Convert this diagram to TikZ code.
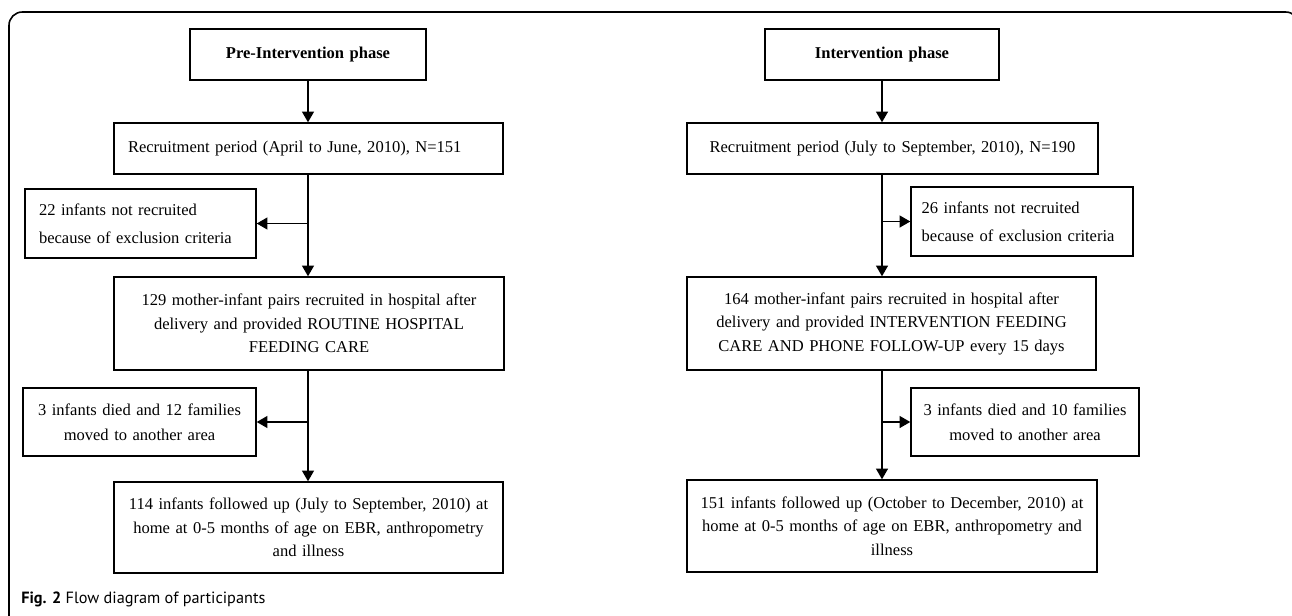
\documentclass[tikz,border=0pt]{standalone}
\usepackage{fontspec}
\setmainfont{Liberation Serif}
\newfontfamily\capfont{PT Sans}
\usetikzlibrary{arrows.meta}
\tikzset{
	box/.style={draw, line width=1.1pt, inner xsep=6pt, inner ysep=0pt, align=center, font=\fontsize{12.4}{17.6}\selectfont},
	leftbox/.style={box, align=left, inner xsep=10.5pt},
	flow/.style={line width=0.9pt, -{Triangle[length=8pt,width=9pt]}},
}
\begin{document}
\begin{tikzpicture}[x=0.75pt, y=-0.75pt]
		\useasboundingbox (0,0) rectangle (1292,615);
		\draw[line width=1.2pt, rounded corners=10pt] (9,620) -- (9,12) -- (1299,12) -- (1299,620);
		% pre-intervention column
		\node[box, text width=165pt, minimum height=38.25pt, font=\bfseries\fontsize{12.4}{17.6}\selectfont] (pre) at (308,54.5) {Pre-Intervention phase};
		\node[leftbox, text width=270.75pt, minimum height=38.25pt] (recL) at (308.5,148.5) {Recruitment period (April to June, 2010), N=151};
		\node[leftbox, text width=152.25pt, minimum height=51.75pt, font=\fontsize{12.4}{21}\selectfont] (exclL) at (140.5,223.5) {22 infants not recruited\\because of exclusion criteria};
		\node[box, text width=280.5pt, minimum height=69.75pt] (pairsL) at (309,323.5) {129 mother-infant pairs recruited in hospital after\\delivery and provided ROUTINE HOSPITAL\\FEEDING CARE};
		\node[box, text width=162.75pt, minimum height=51pt, font=\fontsize{12.4}{18.75}\selectfont] (diedL) at (139.5,422) {3 infants died and 12 families\\moved to another area};
		\node[box, text width=279.75pt, minimum height=68.25pt] (followL) at (308.5,527.5) {114 infants followed up (July to September, 2010) at\\home at 0-5 months of age on EBR, anthropometry\\and illness};
		% intervention column
		\node[box, text width=163.5pt, minimum height=38.25pt, font=\bfseries\fontsize{12.4}{17.6}\selectfont] (int) at (882,54.5) {Intervention phase};
		\node[box, text width=296.25pt, minimum height=38.25pt] (recR) at (892.5,148.5) {Recruitment period (July to September, 2010), N=190};
		\node[leftbox, inner xsep=8pt, text width=150.5pt, minimum height=51.75pt, font=\fontsize{12.4}{21}\selectfont] (exclR) at (1022,221.5) {26 infants not recruited\\because of exclusion criteria};
		\node[box, text width=294.75pt, minimum height=69.75pt] (pairsR) at (891.5,323.5) {164 mother-infant pairs recruited in hospital after\\delivery and provided INTERVENTION FEEDING\\CARE AND PHONE FOLLOW-UP every 15 days};
		\node[box, text width=159pt, minimum height=51pt, font=\fontsize{12.4}{18.75}\selectfont] (diedR) at (1025,422) {3 infants died and 10 families\\moved to another area};
		\node[box, text width=295.5pt, minimum height=69pt] (followR) at (892,526) {151 infants followed up (October to December, 2010) at\\home at 0-5 months of age on EBR, anthropometry and\\illness};
		% arrows
		\draw[flow] (pre) -- (recL.north -| pre);
		\draw[flow] (recL.south -| pre) -- (pairsL.north -| pre);
		\draw[flow] (pre |- exclL) -- (exclL.east);
		\draw[flow] (pairsL.south -| pre) -- (followL.north -| pre);
		\draw[flow] (pre |- diedL) -- (diedL.east);
		\draw[flow] (int) -- (recR.north -| int);
		\draw[flow] (recR.south -| int) -- (pairsR.north -| int);
		\draw[flow] (int |- exclR) -- (exclR.west);
		\draw[flow] (pairsR.south -| int) -- (followR.north -| int);
		\draw[flow] (int |- diedR) -- (diedR.west);
		% caption
		\node[anchor=west, inner sep=0pt, font=\capfont\fontsize{12.2}{14}\selectfont] (cap) at (21,599) {\textbf{Fig. 2} Flow diagram of participants};
\end{tikzpicture}
\end{document}
